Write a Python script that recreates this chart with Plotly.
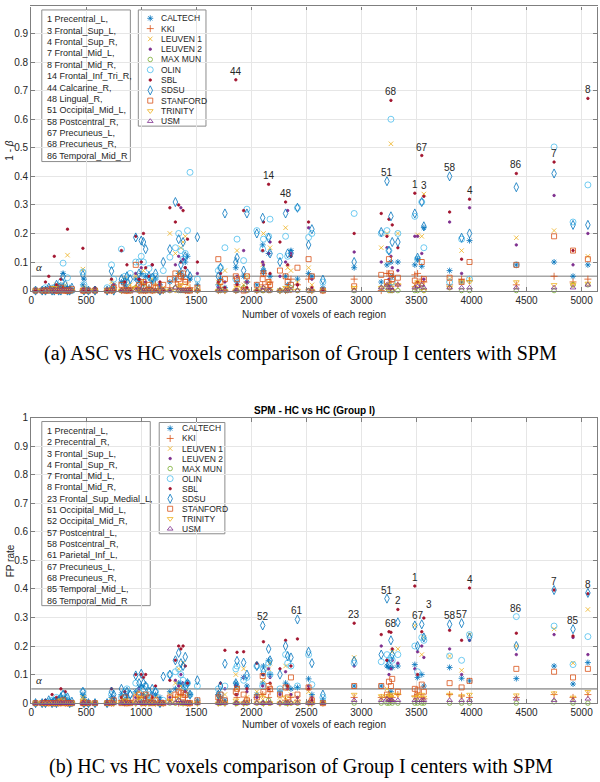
import plotly.graph_objects as go

W, H = 600, 782

# ---------------- data ----------------
centers = ["CALTECH", "KKI", "LEUVEN 1", "LEUVEN 2", "MAX MUN", "OLIN",
           "SBL", "SDSU", "STANFORD", "TRINITY", "USM"]

# region sizes (number of voxels) of the plotted AAL regions
voxels = [40, 100, 130, 160, 190, 210, 230, 250, 270, 290, 310, 330, 350, 370, 470, 480, 520, 580,
          690, 730, 750, 820, 850, 870, 900, 950, 980, 1000, 1020, 1040, 1070, 1100, 1130, 1170, 1200,
          1260, 1310, 1340, 1360, 1380, 1400, 1420, 1443, 1510,
          1700, 1720, 1760, 1859, 1870, 1930, 1960, 2050, 2103, 2110, 2157, 2170, 2260, 2311, 2330,
          2360, 2419, 2520, 2550, 2650,
          2934, 3180, 3232, 3250, 3268, 3280, 3331, 3485, 3510, 3548, 3567, 3801, 3910, 3982, 4407,
          4750, 4922, 5057]

# voxel count of the labelled AAL regions
aal_voxels = {1: 3485, 2: 3331, 3: 3567, 4: 3982, 7: 4750, 8: 5057, 14: 2157, 23: 2934,
              44: 1859, 48: 2311, 51: 3232, 52: 2103, 57: 3910, 58: 3801, 61: 2419,
              67: 3548, 68: 3268, 85: 4922, 86: 4407}

# (a) ASC vs HC : 1 - beta
top_vals = {
    "CALTECH": [0.0, 0.0, 0.005, 0.0, 0.01, 0.005, 0.0, 0.01, 0.02, 0.06, 0.01, 0.005, 0.01, 0.0, 0.02, 0.04, 0.0, 0.0,
                0.0, 0.01, 0.02, 0.03, 0.02, 0.01, 0.0, 0.04, 0.03, 0.06, 0.02, 0.05, 0.01, 0.03, 0.04, 0.02, 0.0, 0.03, 0.04, 0.06, 0.065, 0.05, 0.1, 0.12, 0.04, 0.02,
                0.02, 0.04, 0.01, 0.08, 0.03, 0.05, 0.03, 0.02, 0.16, 0.07, 0.13, 0.05, 0.0, 0.05, 0.02, 0.14, 0.04, 0.06, 0.05, 0.01,
                0.08, 0.03, 0.09, 0.02, 0.1, 0.05, 0.10, 0.09, 0.11, 0.085, 0.22, 0.07, 0.03, 0.175, 0.09, 0.10, 0.05, 0.09],
    "KKI": [0.0, 0.0, 0.0, 0.005, 0.0, 0.01, 0.0, 0.0, 0.005, 0.01, 0.0, 0.0, 0.0, 0.0, 0.0, 0.005, 0.0, 0.0,
            0.0, 0.0, 0.01, 0.0, 0.02, 0.0, 0.01, 0.01, 0.0, 0.02, 0.03, 0.0, 0.01, 0.0, 0.02, 0.0, 0.0, 0.01, 0.03, 0.02, 0.01, 0.04, 0.0, 0.03, 0.01, 0.0,
            0.0, 0.01, 0.0, 0.0, 0.02, 0.01, 0.03, 0.0, 0.02, 0.06, 0.01, 0.03, 0.0, 0.0, 0.01, 0.04, 0.02, 0.04, 0.0, 0.0,
            0.04, 0.0, 0.06, 0.06, 0.03, 0.05, 0.02, 0.055, 0.06, 0.04, 0.03, 0.02, 0.04, 0.035, 0.02, 0.05, 0.03, 0.04],
    "LEUVEN 1": [0.0, 0.0, 0.0, 0.0, 0.01, 0.0, 0.02, 0.0, 0.01, 0.0, 0.02, 0.124, 0.0, 0.0, 0.075, 0.01, 0.0, 0.0,
                 0.0, 0.03, 0.02, 0.0, 0.04, 0.0, 0.02, 0.05, 0.0, 0.03, 0.07, 0.02, 0.0, 0.04, 0.02, 0.0, 0.01, 0.2, 0.13, 0.06, 0.15, 0.17, 0.19, 0.02, 0.0, 0.01,
                 0.03, 0.02, 0.07, 0.0, 0.14, 0.02, 0.05, 0.0, 0.09, 0.2, 0.03, 0.15, 0.0, 0.22, 0.08, 0.07, 0.03, 0.08, 0.02, 0.0,
                 0.01, 0.15, 0.2, 0.02, 0.514, 0.02, 0.20, 0.02, 0.195, 0.19, 0.338, 0.04, 0.14, 0.04, 0.185, 0.21, 0.025, 0.12],
    "LEUVEN 2": [0.0, 0.0, 0.0, 0.01, 0.0, 0.0, 0.0, 0.01, 0.0, 0.0, 0.0, 0.01, 0.0, 0.0, 0.0, 0.0, 0.0, 0.0,
                 0.0, 0.0, 0.02, 0.0, 0.03, 0.0, 0.0, 0.06, 0.04, 0.08, 0.0, 0.03, 0.0, 0.09, 0.0, 0.02, 0.0, 0.0, 0.09, 0.12, 0.29, 0.11, 0.08, 0.0, 0.0, 0.06,
                 0.01, 0.0, 0.03, 0.0, 0.05, 0.14, 0.03, 0.0, 0.1, 0.09, 0.13, 0.17, 0.05, 0.1, 0.28, 0.13, 0.02, 0.22, 0.04, 0.0,
                 0.135, 0.1, 0.15, 0.04, 0.12, 0.08, 0.07, 0.19, 0.19, 0.13, 0.04, 0.24, 0.06, 0.29, 0.16, 0.333, 0.09, 0.2],
    "MAX MUN": [0.0, 0.0, 0.0, 0.0, 0.0, 0.0, 0.0, 0.0, 0.0, 0.0, 0.0, 0.0, 0.0, 0.0, 0.0, 0.0, 0.0, 0.0,
                0.0, 0.0, 0.0, 0.0, 0.0, 0.0, 0.0, 0.01, 0.0, 0.0, 0.0, 0.0, 0.0, 0.0, 0.0, 0.0, 0.0, 0.0, 0.01, 0.0, 0.0, 0.0, 0.0, 0.0, 0.0, 0.0,
                0.0, 0.0, 0.0, 0.0, 0.0, 0.01, 0.0, 0.0, 0.0, 0.0, 0.0, 0.0, 0.0, 0.0, 0.0, 0.01, 0.0, 0.0, 0.0, 0.0,
                0.0, 0.01, 0.01, 0.0, 0.0, 0.0, 0.0, 0.0, 0.0, 0.01, 0.0, 0.01, 0.0, 0.0, 0.0, 0.0, 0.02, 0.02],
    "OLIN": [0.0, 0.0, 0.01, 0.0, 0.0, 0.01, 0.005, 0.0, 0.03, 0.096, 0.01, 0.045, 0.0, 0.0, 0.065, 0.02, 0.0, 0.0,
             0.01, 0.09, 0.04, 0.145, 0.05, 0.03, 0.06, 0.1, 0.1, 0.12, 0.1, 0.05, 0.077, 0.04, 0.05, 0.0, 0.07, 0.117, 0.15, 0.2, 0.14, 0.11, 0.13, 0.21, 0.414, 0.04,
             0.07, 0.08, 0.15, 0.04, 0.18, 0.105, 0.285, 0.21, 0.145, 0.18, 0.19, 0.25, 0.12, 0.19, 0.12, 0.02, 0.29, 0.186, 0.2, 0.03,
             0.27, 0.2, 0.21, 0.14, 0.60, 0.03, 0.2, 0.26, 0.11, 0.31, 0.15, 0.03, 0.18, 0.04, 0.09, 0.503, 0.24, 0.37],
    "SBL": [0.0, 0.0, 0.03, 0.05, 0.0, 0.12, 0.02, 0.0, 0.04, 0.01, 0.0, 0.215, 0.0, 0.0, 0.148, 0.0, 0.0, 0.01,
            0.0, 0.04, 0.0, 0.14, 0.03, 0.09, 0.0, 0.19, 0.04, 0.1, 0.2, 0.08, 0.05, 0.09, 0.0, 0.03, 0.0, 0.29, 0.24, 0.3, 0.1, 0.28, 0.08, 0.18, 0.0, 0.1,
            0.03, 0.06, 0.01, 0.738, 0.02, 0.28, 0.01, 0.0, 0.14, 0.24, 0.372, 0.06, 0.17, 0.31, 0.09, 0.12, 0.02, 0.24, 0.01, 0.0,
            0.2, 0.27, 0.19, 0.25, 0.666, 0.23, 0.15, 0.341, 0.03, 0.473, 0.33, 0.275, 0.11, 0.32, 0.41, 0.45, 0.14, 0.673],
    "SDSU": [0.0, 0.0, 0.0, 0.01, 0.0, 0.0, 0.02, 0.0, 0.0, 0.05, 0.02, 0.0, 0.0, 0.01, 0.055, 0.0, 0.0, 0.0,
             0.0, 0.068, 0.0, 0.04, 0.03, 0.05, 0.04, 0.186, 0.06, 0.175, 0.17, 0.145, 0.05, 0.045, 0.06, 0.0, 0.1, 0.145, 0.31, 0.18, 0.09, 0.17, 0.12, 0.06, 0.05, 0.187,
             0.05, 0.08, 0.27, 0.1, 0.115, 0.07, 0.27, 0.2, 0.255, 0.07, 0.185, 0.13, 0.1, 0.27, 0.13, 0.13, 0.29, 0.16, 0.215, 0.038,
             0.1, 0.205, 0.383, 0.14, 0.26, 0.17, 0.17, 0.27, 0.115, 0.31, 0.225, 0.40, 0.185, 0.2, 0.362, 0.41, 0.23, 0.23],
    "STANFORD": [0.0, 0.0, 0.0, 0.0, 0.005, 0.0, 0.0, 0.0, 0.01, 0.0, 0.0, 0.0, 0.0, 0.005, 0.0, 0.0, 0.0, 0.0,
                 0.0, 0.0, 0.01, 0.02, 0.0, 0.0, 0.0, 0.09, 0.02, 0.0, 0.03, 0.0, 0.02, 0.0, 0.01, 0.0, 0.02, 0.04, 0.06, 0.04, 0.05, 0.06, 0.03, 0.0, 0.0, 0.01,
                 0.11, 0.03, 0.04, 0.05, 0.04, 0.0, 0.05, 0.02, 0.04, 0.06, 0.03, 0.02, 0.07, 0.05, 0.03, 0.02, 0.08, 0.11, 0.05, 0.0,
                 0.015, 0.055, 0.03, 0.11, 0.06, 0.04, 0.045, 0.035, 0.02, 0.1, 0.04, 0.045, 0.03, 0.10, 0.09, 0.19, 0.14, 0.11],
    "TRINITY": [0.0, 0.0, 0.0, 0.0, 0.0, 0.01, 0.0, 0.0, 0.0, 0.0, 0.0, 0.0, 0.0, 0.0, 0.0, 0.0, 0.0, 0.0,
                0.0, 0.0, 0.0, 0.0, 0.0, 0.0, 0.0, 0.01, 0.0, 0.0, 0.0, 0.0, 0.0, 0.0, 0.0, 0.0, 0.0, 0.0, 0.0, 0.01, 0.02, 0.0, 0.0, 0.0, 0.0, 0.0,
                0.0, 0.0, 0.0, 0.0, 0.01, 0.0, 0.0, 0.0, 0.01, 0.0, 0.0, 0.0, 0.0, 0.01, 0.0, 0.0, 0.0, 0.0, 0.0, 0.0,
                0.01, 0.01, 0.02, 0.0, 0.01, 0.0, 0.02, 0.01, 0.03, 0.02, 0.0, 0.01, 0.03, 0.03, 0.03, 0.02, 0.02, 0.025],
    "USM": [0.0, 0.0, 0.0, 0.0, 0.0, 0.0, 0.0, 0.0, 0.0, 0.0, 0.0, 0.0, 0.0, 0.0, 0.0, 0.0, 0.0, 0.0,
            0.0, 0.0, 0.0, 0.0, 0.0, 0.0, 0.0, 0.0, 0.01, 0.0, 0.0, 0.0, 0.0, 0.0, 0.0, 0.0, 0.0, 0.0, 0.01, 0.0, 0.0, 0.0, 0.0, 0.0, 0.0, 0.0,
            0.0, 0.0, 0.0, 0.0, 0.0, 0.0, 0.0, 0.0, 0.0, 0.01, 0.0, 0.0, 0.0, 0.0, 0.0, 0.0, 0.0, 0.0, 0.0, 0.0,
            0.0, 0.01, 0.02, 0.01, 0.01, 0.0, 0.02, 0.01, 0.015, 0.02, 0.01, 0.01, 0.01, 0.01, 0.01, 0.01, 0.01, 0.02],
}

# (b) HC vs HC : FP rate
bot_vals = {
    "CALTECH": [0.0, 0.0, 0.0, 0.005, 0.0, 0.01, 0.0, 0.005, 0.02, 0.015, 0.0, 0.01, 0.0, 0.0, 0.03, 0.02, 0.0, 0.0,
                0.0, 0.02, 0.01, 0.03, 0.01, 0.02, 0.0, 0.04, 0.05, 0.06, 0.03, 0.02, 0.01, 0.0, 0.03, 0.02, 0.0, 0.04, 0.05, 0.07, 0.07, 0.06, 0.045, 0.07, 0.03, 0.01,
                0.03, 0.02, 0.01, 0.07, 0.06, 0.09, 0.06, 0.03, 0.07, 0.13, 0.15, 0.1, 0.04, 0.07, 0.06, 0.05, 0.055, 0.085, 0.03, 0.01,
                0.06, 0.06, 0.13, 0.125, 0.04, 0.125, 0.13, 0.135, 0.09, 0.1, 0.06, 0.125, 0.087, 0.078, 0.086, 0.13, 0.067, 0.142],
    "KKI": [0.0, 0.0, 0.0, 0.0, 0.0, 0.005, 0.0, 0.0, 0.0, 0.01, 0.0, 0.0, 0.0, 0.0, 0.0, 0.0, 0.0, 0.0,
            0.0, 0.0, 0.0, 0.01, 0.0, 0.0, 0.01, 0.0, 0.02, 0.0, 0.01, 0.0, 0.0, 0.01, 0.0, 0.0, 0.0, 0.01, 0.02, 0.0, 0.03, 0.0, 0.02, 0.0, 0.0, 0.0,
            0.0, 0.01, 0.0, 0.0, 0.02, 0.0, 0.01, 0.02, 0.03, 0.0, 0.02, 0.04, 0.0, 0.01, 0.0, 0.02, 0.01, 0.0, 0.0, 0.0,
            0.02, 0.02, 0.02, 0.03, 0.01, 0.02, 0.03, 0.025, 0.03, 0.02, 0.015, 0.03, 0.025, 0.02, 0.02, 0.03, 0.02, 0.03],
    "LEUVEN 1": [0.0, 0.0, 0.0, 0.0, 0.0, 0.0, 0.01, 0.0, 0.0, 0.02, 0.0, 0.01, 0.0, 0.0, 0.02, 0.0, 0.0, 0.0,
                 0.0, 0.01, 0.0, 0.02, 0.0, 0.01, 0.0, 0.03, 0.04, 0.02, 0.0, 0.03, 0.01, 0.0, 0.02, 0.0, 0.0, 0.03, 0.07, 0.12, 0.06, 0.14, 0.04, 0.03, 0.0, 0.0,
                 0.02, 0.0, 0.03, 0.1, 0.05, 0.12, 0.02, 0.04, 0.03, 0.08, 0.12, 0.14, 0.02, 0.13, 0.05, 0.03, 0.02, 0.04, 0.02, 0.0,
                 0.16, 0.02, 0.05, 0.03, 0.02, 0.18, 0.19, 0.272, 0.03, 0.17, 0.23, 0.165, 0.115, 0.24, 0.2, 0.26, 0.14, 0.328],
    "LEUVEN 2": [0.0, 0.0, 0.0, 0.0, 0.005, 0.0, 0.0, 0.0, 0.0, 0.01, 0.0, 0.0, 0.0, 0.0, 0.0, 0.0, 0.0, 0.0,
                 0.0, 0.0, 0.02, 0.0, 0.01, 0.03, 0.0, 0.02, 0.05, 0.03, 0.0, 0.02, 0.0, 0.03, 0.0, 0.01, 0.0, 0.02, 0.08, 0.06, 0.1, 0.07, 0.04, 0.0, 0.0, 0.0,
                 0.01, 0.0, 0.05, 0.06, 0.03, 0.09, 0.04, 0.02, 0.06, 0.1, 0.12, 0.09, 0.03, 0.11, 0.05, 0.03, 0.02, 0.06, 0.02, 0.0,
                 0.13, 0.2, 0.15, 0.1, 0.12, 0.15, 0.14, 0.12, 0.18, 0.2, 0.16, 0.19, 0.1, 0.22, 0.17, 0.24, 0.23, 0.17],
    "MAX MUN": [0.0, 0.0, 0.0, 0.0, 0.0, 0.0, 0.0, 0.0, 0.0, 0.0, 0.0, 0.0, 0.0, 0.0, 0.0, 0.0, 0.0, 0.0,
                0.0, 0.0, 0.0, 0.0, 0.0, 0.0, 0.0, 0.0, 0.01, 0.0, 0.0, 0.0, 0.0, 0.0, 0.0, 0.0, 0.0, 0.0, 0.0, 0.01, 0.0, 0.0, 0.0, 0.0, 0.0, 0.0,
                0.0, 0.0, 0.0, 0.0, 0.0, 0.0, 0.0, 0.0, 0.0, 0.0, 0.01, 0.0, 0.0, 0.0, 0.0, 0.0, 0.0, 0.0, 0.0, 0.0,
                0.0, 0.0, 0.0, 0.0, 0.005, 0.0, 0.0, 0.0, 0.0, 0.0, 0.0, 0.0, 0.0, 0.0, 0.0, 0.005, 0.0, 0.0],
    "OLIN": [0.0, 0.0, 0.0, 0.005, 0.01, 0.0, 0.02, 0.01, 0.01, 0.03, 0.02, 0.01, 0.0, 0.0, 0.04, 0.0, 0.0, 0.0,
             0.0, 0.03, 0.01, 0.02, 0.04, 0.05, 0.03, 0.07, 0.04, 0.02, 0.05, 0.06, 0.03, 0.02, 0.04, 0.0, 0.01, 0.1, 0.11, 0.12, 0.1, 0.08, 0.06, 0.07, 0.03, 0.06,
             0.05, 0.03, 0.06, 0.12, 0.13, 0.08, 0.09, 0.13, 0.06, 0.12, 0.14, 0.1, 0.05, 0.17, 0.14, 0.13, 0.06, 0.17, 0.065, 0.02,
             0.14, 0.145, 0.17, 0.15, 0.16, 0.15, 0.17, 0.2, 0.11, 0.23, 0.22, 0.165, 0.15, 0.24, 0.303, 0.27, 0.135, 0.233],
    "SBL": [0.0, 0.0, 0.01, 0.0, 0.03, 0.0, 0.02, 0.0, 0.05, 0.0, 0.04, 0.0, 0.0, 0.0, 0.0, 0.01, 0.0, 0.0,
            0.0, 0.05, 0.0, 0.02, 0.04, 0.0, 0.0, 0.1, 0.0, 0.1, 0.09, 0.1, 0.0, 0.02, 0.06, 0.0, 0.0, 0.08, 0.15, 0.2, 0.19, 0.2, 0.13, 0.07, 0.0, 0.0,
            0.0, 0.07, 0.185, 0.03, 0.178, 0.18, 0.05, 0.14, 0.1, 0.215, 0.05, 0.07, 0.12, 0.22, 0.06, 0.13, 0.225, 0.05, 0.01, 0.0,
            0.28, 0.24, 0.15, 0.25, 0.248, 0.19, 0.328, 0.41, 0.1, 0.25, 0.298, 0.255, 0.22, 0.403, 0.245, 0.396, 0.235, 0.383],
    "SDSU": [0.0, 0.0, 0.0, 0.01, 0.0, 0.005, 0.0, 0.01, 0.02, 0.03, 0.01, 0.02, 0.0, 0.005, 0.04, 0.0, 0.0, 0.0,
             0.0, 0.04, 0.03, 0.05, 0.02, 0.04, 0.03, 0.097, 0.07, 0.103, 0.07, 0.06, 0.04, 0.05, 0.04, 0.0, 0.093, 0.1, 0.15, 0.176, 0.14, 0.13, 0.162, 0.07, 0.03, 0.08,
             0.03, 0.06, 0.138, 0.07, 0.148, 0.142, 0.1, 0.13, 0.272, 0.11, 0.19, 0.15, 0.1, 0.2, 0.165, 0.16, 0.293, 0.18, 0.14, 0.03,
             0.148, 0.17, 0.366, 0.135, 0.22, 0.17, 0.283, 0.272, 0.2, 0.276, 0.23, 0.276, 0.28, 0.23, 0.2, 0.396, 0.259, 0.386],
    "STANFORD": [0.0, 0.0, 0.0, 0.0, 0.0, 0.0, 0.0, 0.005, 0.0, 0.01, 0.0, 0.0, 0.0, 0.0, 0.0, 0.0, 0.0, 0.0,
                 0.0, 0.0, 0.01, 0.0, 0.02, 0.0, 0.0, 0.02, 0.03, 0.01, 0.0, 0.03, 0.02, 0.0, 0.01, 0.0, 0.0, 0.02, 0.03, 0.04, 0.035, 0.02, 0.03, 0.0, 0.0, 0.01,
                 0.02, 0.03, 0.01, 0.04, 0.05, 0.03, 0.01, 0.02, 0.095, 0.04, 0.06, 0.05, 0.03, 0.055, 0.02, 0.09, 0.03, 0.055, 0.01, 0.0,
                 0.06, 0.06, 0.03, 0.075, 0.06, 0.085, 0.04, 0.05, 0.045, 0.065, 0.04, 0.07, 0.055, 0.078, 0.12, 0.11, 0.09, 0.12],
    "TRINITY": [0.0, 0.0, 0.0, 0.0, 0.0, 0.0, 0.0, 0.0, 0.01, 0.0, 0.0, 0.0, 0.0, 0.0, 0.01, 0.0, 0.0, 0.0,
                0.0, 0.0, 0.0, 0.0, 0.01, 0.0, 0.0, 0.0, 0.02, 0.0, 0.0, 0.0, 0.0, 0.0, 0.0, 0.0, 0.0, 0.01, 0.0, 0.02, 0.0, 0.0, 0.0, 0.0, 0.0, 0.0,
                0.0, 0.0, 0.0, 0.01, 0.0, 0.0, 0.0, 0.0, 0.02, 0.0, 0.0, 0.0, 0.0, 0.02, 0.0, 0.0, 0.0, 0.0, 0.0, 0.0,
                0.03, 0.025, 0.02, 0.025, 0.02, 0.03, 0.03, 0.02, 0.02, 0.03, 0.02, 0.03, 0.025, 0.03, 0.028, 0.035, 0.02, 0.04],
    "USM": [0.0, 0.0, 0.0, 0.0, 0.0, 0.0, 0.0, 0.0, 0.0, 0.0, 0.0, 0.0, 0.0, 0.0, 0.0, 0.0, 0.0, 0.0,
            0.0, 0.0, 0.0, 0.0, 0.0, 0.0, 0.0, 0.0, 0.0, 0.0, 0.0, 0.0, 0.0, 0.0, 0.0, 0.0, 0.0, 0.0, 0.0, 0.01, 0.0, 0.0, 0.0, 0.0, 0.0, 0.0,
            0.0, 0.0, 0.0, 0.0, 0.0, 0.0, 0.0, 0.0, 0.0, 0.0, 0.0, 0.0, 0.0, 0.0, 0.0, 0.0, 0.0, 0.0, 0.0, 0.0,
            0.01, 0.01, 0.015, 0.01, 0.01, 0.01, 0.01, 0.01, 0.01, 0.01, 0.01, 0.01, 0.01, 0.01, 0.015, 0.01, 0.01, 0.015],
}

# labelled regions: (AAL number, center whose marker carries the label)
top_labels = [(44, "SBL"), (14, "SBL"), (48, "SBL"), (68, "SBL"), (67, "SBL"), (51, "SDSU"),
               (58, "SDSU"), (86, "SBL"), (7, "SBL"), (8, "SBL"), (1, "SBL"), (3, "LEUVEN 1"), (4, "SBL")]
bot_labels = [(1, "SBL"), (4, "SBL"), (7, "SDSU"), (8, "SDSU"), (51, "SDSU"), (2, "SBL"), (3, "SBL"),
              (67, "SDSU"), (68, "SBL"), (58, "SDSU"), (57, "SDSU"), (86, "OLIN"), (85, "SDSU"),
              (52, "SDSU"), (61, "SDSU"), (23, "SBL")]

top_regions = ["1 Precentral_L,", "3 Frontal_Sup_L,", "4 Frontal_Sup_R,", "7 Frontal_Mid_L,",
               "8 Frontal_Mid_R,", "14 Frontal_Inf_Tri_R,", "44 Calcarine_R,", "48 Lingual_R,",
               "51 Occipital_Mid_L,", "58 Postcentral_R,", "67 Precuneus_L,", "68 Precuneus_R,",
               "86 Temporal_Mid_R"]
bot_regions = ["1 Precentral_L,", "2 Precentral_R,", "3 Frontal_Sup_L,", "4 Frontal_Sup_R,",
               "7 Frontal_Mid_L,", "8 Frontal_Mid_R,", "23 Frontal_Sup_Medial_L,", "51 Occipital_Mid_L,",
               "52 Occipital_Mid_R,", "57 Postcentral_L,", "58 Postcentral_R,", "61 Parietal_Inf_L,",
               "67 Precuneus_L,", "68 Precuneus_R,", "85 Temporal_Mid_L,", "86 Temporal_Mid_R"]

ALPHA = 0.05
x_ticks = [0, 500, 1000, 1500, 2000, 2500, 3000, 3500, 4000, 4500, 5000]
top_y_ticks = [0, 0.1, 0.2, 0.3, 0.4, 0.5, 0.6, 0.7, 0.8, 0.9]
bot_y_ticks = [0, 0.1, 0.2, 0.3, 0.4, 0.5, 0.6, 0.7, 0.8, 0.9, 1]

# ---------------- styles ----------------
colors = ["#0072BD", "#D95319", "#EDB120", "#7E2F8E", "#77AC30", "#4DBEEE",
          "#A2142F", "#0072BD", "#D95319", "#EDB120", "#7E2F8E"]
symbols = ["asterisk-open", "cross-thin-open", "x-thin-open", "circle", "circle-open", "circle-open",
           "circle", "diamond-tall-open", "square-open", "triangle-down-open", "triangle-up-open"]
msizes = [5, 5, 4.5, 2.5, 4.5, 6, 2.5, 6.5, 5, 5, 5]

SANS = "Liberation Sans, Arial, sans-serif"
SERIF = "Liberation Serif, DejaVu Serif, serif"
TXT = "#262626"
AXC = "#7f7f7f"

# pixel layout
PX_L, PX_R = 28.3, 597
TOP_PX = (0, 289)       # top, bottom of panel (a)
BOT_PX = (418, 708)     # top, bottom of panel (b)
X_MAX = 5140


def py(p):
    return 1 - p / H


def px(p):
    return p / W


fig = go.Figure()


def add_panel(vals, xa, ya):
    for i, c in enumerate(centers):
        fig.add_trace(go.Scatter(
            x=voxels, y=vals[c], mode="markers", name=c, showlegend=False,
            xaxis=xa, yaxis=ya,
            marker=dict(symbol=symbols[i], size=msizes[i], color=colors[i],
                        line=dict(color=colors[i], width=0.8)),
            cliponaxis=False))


add_panel(top_vals, "x", "y")
add_panel(bot_vals, "x2", "y2")

# manual legend glyphs on a pixel-space overlay axis
LEG = [dict(mx=148, tx=157, y0=12.5, dy=10.45, box=(136, 4, 204, 122)),
       dict(mx=168, tx=178, y0=429, dy=10.2, box=(157, 423, 223, 536))]
for i, c in enumerate(centers):
    fig.add_trace(go.Scatter(
        x=[L["mx"] for L in LEG], y=[L["y0"] + i * L["dy"] for L in LEG],
        mode="markers", showlegend=False, xaxis="x3", yaxis="y3",
        marker=dict(symbol=symbols[i], size=msizes[i], color=colors[i],
                    line=dict(color=colors[i], width=0.8))))

annotations = []
shapes = []
for L in LEG:
    x0, y0, x1, y1 = L["box"]
    shapes.append(dict(type="rect", xref="paper", yref="paper", x0=px(x0), x1=px(x1),
                       y0=py(y1), y1=py(y0), line=dict(color="#8c8c8c", width=1),
                       fillcolor="white", layer="between"))
    for i, c in enumerate(centers):
        annotations.append(dict(xref="paper", yref="paper", x=px(L["tx"]), y=py(L["y0"] + i * L["dy"]),
                                xanchor="left", yanchor="middle", showarrow=False, text=c,
                                font=dict(family=SANS, size=8.5, color=TXT)))

# region text boxes
for regions, box, y0, dy in [(top_regions, (39, 4, 128, 158), 13.5, 11.55),
                             (bot_regions, (39, 422, 148, 609), 431.5, 11.5)]:
    x0, b0, x1, b1 = box
    shapes.append(dict(type="rect", xref="paper", yref="paper", x0=px(x0), x1=px(x1),
                       y0=py(b1), y1=py(b0), line=dict(color="#8c8c8c", width=1),
                       fillcolor="white", layer="between"))
    for i, t in enumerate(regions):
        annotations.append(dict(xref="paper", yref="paper", x=px(42), y=py(y0 + i * dy),
                                xanchor="left", yanchor="middle", showarrow=False, text=t,
                                font=dict(family=SANS, size=9, color=TXT)))

# region number labels (small nudges where two labels stack: (dx, dy) in px)
nudge = {("b", 3): (5, 5), ("b", 67): (-4, 0)}
for tag, labels, vals, xr, yr in [("t", top_labels, top_vals, "x", "y"),
                                  ("b", bot_labels, bot_vals, "x2", "y2")]:
    for aal, c in labels:
        k = voxels.index(aal_voxels[aal])
        dx, dy = nudge.get((tag, aal), (0, 0))
        annotations.append(dict(xref=xr, yref=yr, x=voxels[k], y=vals[c][k], text=str(aal),
                                xanchor="center", yanchor="bottom", yshift=1 + dy, xshift=dx,
                                showarrow=False, font=dict(family=SANS, size=10, color=TXT)))

# alpha lines and labels
for xr, yr in [("x", "y"), ("x2", "y2")]:
    shapes.append(dict(type="line", xref=xr, yref=yr, x0=0, x1=X_MAX, y0=ALPHA, y1=ALPHA,
                       line=dict(color="#a6a6a6", width=1.6), layer="between"))
    annotations.append(dict(xref=xr, yref=yr, x=0, y=ALPHA, text="<i>α</i>", xanchor="left",
                            yanchor="bottom", xshift=3, yshift=1, showarrow=False,
                            font=dict(family=SERIF, size=11, color=TXT)))

# the reference crops panel (a) just above its top border: hide that border line
shapes.append(dict(type="rect", xref="paper", yref="paper", x0=0, x1=1, y0=py(1.0), y1=1.0,
                   line=dict(width=0), fillcolor="white", layer="above"))


def centered(x, y, text, font, **kw):
    d = dict(xref="paper", yref="paper", x=px(x), y=py(y), text=text, xanchor="center",
             yanchor="middle", showarrow=False, font=font)
    d.update(kw)
    return d


annotations += [
    centered(7, 147, "1 - <i>β</i>", dict(family=SANS, size=10, color=TXT), textangle=-90),
    centered(7, 563, "FP rate", dict(family=SANS, size=10, color=TXT), textangle=-90),
    centered(313, 313, "Number of voxels of each region", dict(family=SANS, size=10, color=TXT)),
    centered(313, 730, "Number of voxels of each region", dict(family=SANS, size=10, color=TXT)),
    centered(313, 411, "<b>SPM - HC vs HC (Group I)</b>", dict(family=SANS, size=10, color="#000000")),
    centered(299, 353, "(a) ASC vs HC voxels comparison of Group I centers with SPM",
             dict(family=SERIF, size=20, color="#000000")),
    centered(299, 772, "(b) HC vs HC voxels comparison of Group I centers with SPM",
             dict(family=SERIF, size=20, color="#000000")),
]


def xaxis(dom_y_anchor):
    return dict(domain=[px(PX_L), px(PX_R)], range=[0, X_MAX], tickvals=x_ticks,
                ticktext=[str(v) for v in x_ticks], showgrid=True, gridcolor="#e6e6e6", gridwidth=1,
                zeroline=False, showline=True, linecolor=AXC, linewidth=1, mirror="ticks",
                ticks="inside", ticklen=4, tickcolor=AXC, tickfont=dict(family=SANS, size=10, color=TXT),
                anchor=dom_y_anchor)


def yaxis(dom, rng, ticks, anchor):
    return dict(domain=dom, range=rng, tickvals=ticks, ticktext=[f"{v:g}" for v in ticks],
                showgrid=True, gridcolor="#e6e6e6", gridwidth=1, zeroline=False, showline=True,
                linecolor=AXC, linewidth=1, mirror="ticks", ticks="inside", ticklen=4, tickcolor=AXC,
                tickfont=dict(family=SANS, size=10, color=TXT), anchor=anchor)


fig.update_layout(
    width=W, height=H, margin=dict(l=0, r=0, t=0, b=0), autosize=False,
    paper_bgcolor="white", plot_bgcolor="rgba(0,0,0,0)", showlegend=False,
    xaxis=xaxis("y"),
    yaxis=yaxis([py(TOP_PX[1]), py(TOP_PX[0])], [0, (TOP_PX[1] - TOP_PX[0]) / 290.0], top_y_ticks, "x"),
    xaxis2=xaxis("y2"),
    yaxis2=yaxis([py(BOT_PX[1]), py(BOT_PX[0])], [0, 1], bot_y_ticks, "x2"),
    xaxis3=dict(domain=[0, 1], range=[0, W], visible=False, anchor="y3", fixedrange=True),
    yaxis3=dict(domain=[0, 1], range=[H, 0], visible=False, anchor="x3", fixedrange=True),
    annotations=annotations, shapes=shapes,
)

fig.write_html("out.html")
